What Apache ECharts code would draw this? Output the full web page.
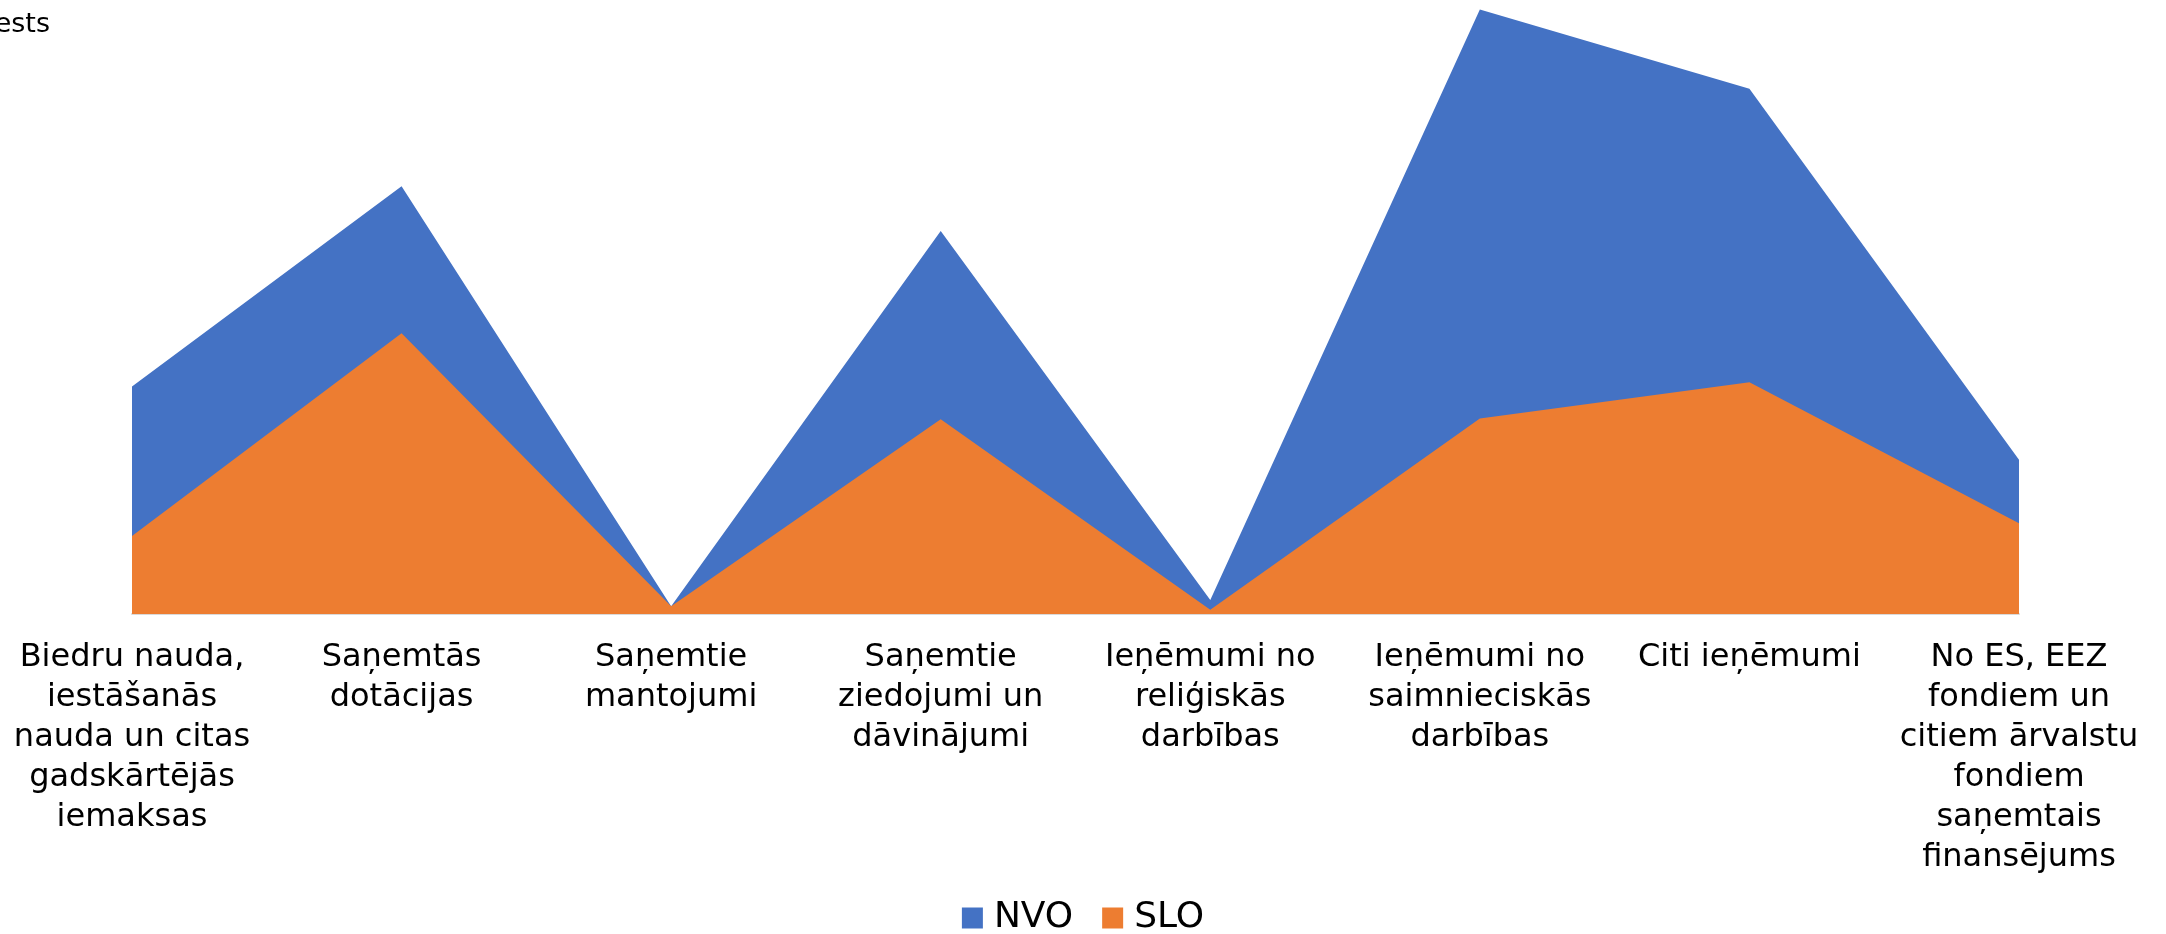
<!DOCTYPE html>
<html>
<head>
<meta charset="utf-8">
<script src="https://cdn.jsdelivr.net/npm/echarts@6/dist/echarts.min.js"></script>
<style>
  html, body { margin: 0; padding: 0; background: #ffffff; }
  #chart { width: 2166px; height: 934px; }
</style>
</head>
<body>
<div id="chart"></div>
<script>
const categories = [
  "Biedru nauda,\niestāšanās\nnauda un citas\ngadskārtējās\niemaksas",
  "Saņemtās\ndotācijas",
  "Saņemtie\nmantojumi",
  "Saņemtie\nziedojumi un\ndāvinājumi",
  "Ieņēmumi no\nreliģiskās\ndarbības",
  "Ieņēmumi no\nsaimnieciskās\ndarbības",
  "Citi ieņēmumi",
  "No ES, EEZ\nfondiem un\ncitiem ārvalstu\nfondiem\nsaņemtais\nfinansējums"
];
const seriesNames = ["NVO", "SLO"];
const nvoValues = [37.6, 70.7, 1.3, 63.3, 2.3, 99.9, 86.8, 25.5];
const sloValues = [12.9, 46.4, 1.3, 32.2, 0.7, 32.3, 38.3, 15.0];
const cutTitle = "ests";

const chart = echarts.init(document.getElementById('chart'), null, { renderer: 'canvas' });
const font = "'DejaVu Sans', Verdana, sans-serif";

chart.setOption({
  backgroundColor: '#ffffff',
  animation: false,
  color: ['#4472C4', '#ED7D31'],
  graphic: [{
    type: 'text',
    style: {
      x: 50, y: 25,
      text: cutTitle,
      textAlign: 'right',
      textVerticalAlign: 'middle',
      fontFamily: font,
      fontSize: 27,
      fill: '#000000'
    }
  }],
  legend: {
    data: seriesNames,
    left: 'center',
    top: 900,
    padding: 0,
    icon: 'rect',
    itemWidth: 21,
    itemHeight: 21,
    itemGap: 29,
    textStyle: {
      fontFamily: font,
      fontSize: 36,
      color: '#000000',
      lineHeight: 36,
      padding: [0, 0, 0, 6]
    }
  },
  grid: {
    left: 132,
    right: 147,
    top: 9,
    bottom: 320,
    containLabel: false
  },
  xAxis: {
    type: 'category',
    data: categories,
    boundaryGap: false,
    axisTick: { show: false },
    axisLine: { show: true, lineStyle: { color: '#d9d9d9', width: 2 } },
    axisLabel: {
      interval: 0,
      margin: 24,
      fontFamily: font,
      fontSize: 32,
      lineHeight: 40,
      color: '#000000',
      align: 'center'
    },
    splitLine: { show: false }
  },
  yAxis: {
    type: 'value',
    min: 0,
    max: 100,
    show: false,
    splitLine: { show: false }
  },
  series: [
    {
      name: seriesNames[0],
      type: 'line',
      data: nvoValues,
      symbol: 'none',
      lineStyle: { width: 0 },
      areaStyle: { color: '#4472C4', opacity: 1 },
      z: 2
    },
    {
      name: seriesNames[1],
      type: 'line',
      data: sloValues,
      symbol: 'none',
      lineStyle: { width: 0 },
      areaStyle: { color: '#ED7D31', opacity: 1 },
      z: 3
    }
  ]
});
</script>
</body>
</html>
